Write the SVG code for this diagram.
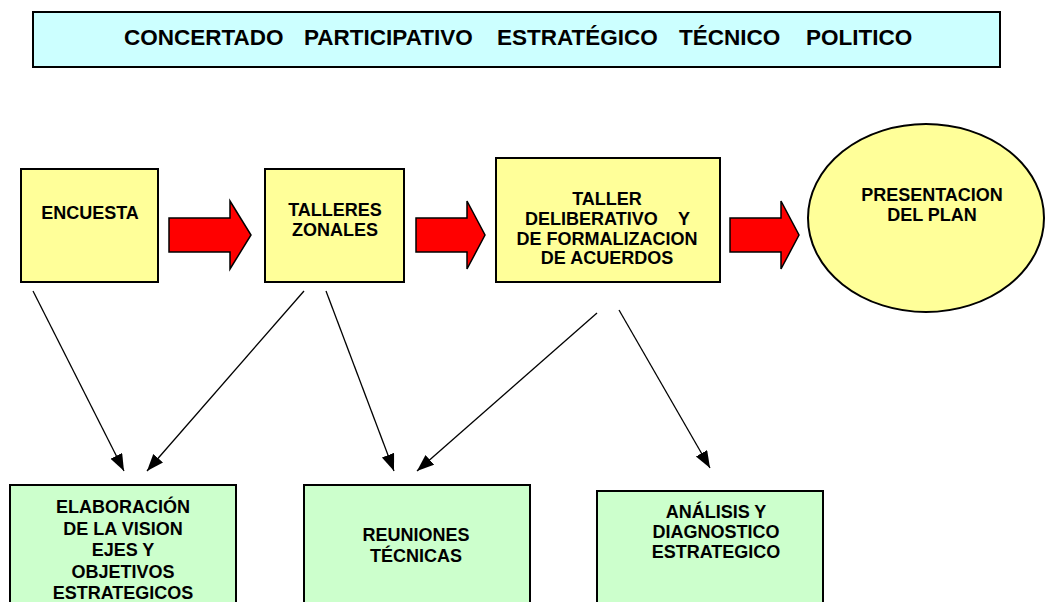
<svg xmlns="http://www.w3.org/2000/svg" width="1046" height="602" viewBox="0 0 1046 602">
<style>
.t{font-family:"Liberation Sans",Arial,sans-serif;font-weight:bold;font-size:18px;fill:#000;text-anchor:middle}
.tt{font-family:"Liberation Sans",Arial,sans-serif;font-weight:bold;font-size:22.5px;fill:#000}
.y{fill:#FFFF99;stroke:#000;stroke-width:2}
.g{fill:#CCFFCC;stroke:#000;stroke-width:2}
.ra{fill:#FF0000;stroke:#000;stroke-width:1.5}
.c{stroke:#000;stroke-width:1.3;fill:none;marker-end:url(#ah)}
</style>
<defs>
<marker id="ah" markerUnits="userSpaceOnUse" markerWidth="18" markerHeight="14" refX="17" refY="6.5" orient="auto">
<path d="M0,0 L17,6.5 L0,13 z" fill="#000"/>
</marker>
</defs>
<rect width="1046" height="602" fill="#fff"/>
<g id="title">
<rect x="33" y="12" width="967" height="55" fill="#CCFFFF" stroke="#000" stroke-width="2"/>
<text class="tt" y="45"><tspan x="124">CONCERTADO</tspan><tspan x="304">PARTICIPATIVO</tspan><tspan x="497">ESTRATÉGICO</tspan><tspan x="679">TÉCNICO</tspan><tspan x="806">POLITICO</tspan></text>
</g>
<g id="encuesta">
<rect class="y" x="21" y="169" width="137" height="113"/>
<text class="t" x="90" y="219">ENCUESTA</text>
</g>
<g id="talleres">
<rect class="y" x="265" y="169" width="139" height="113"/>
<text class="t" x="335" y="216">TALLERES</text>
<text class="t" x="335" y="236">ZONALES</text>
</g>
<g id="taller">
<rect class="y" x="496" y="158" width="224" height="124"/>
<text class="t" x="607" y="205">TALLER</text>
<text class="t" y="225" style="text-anchor:start"><tspan x="525">DELIBERATIVO</tspan><tspan x="678">Y</tspan></text>
<text class="t" x="607" y="245">DE FORMALIZACION</text>
<text class="t" x="607" y="264">DE ACUERDOS</text>
</g>
<g id="presentacion">
<ellipse cx="926" cy="218" rx="118" ry="94" fill="#FFFF99" stroke="#000" stroke-width="2"/>
<text class="t" x="932" y="201">PRESENTACION</text>
<text class="t" x="932" y="221">DEL PLAN</text>
</g>
<g id="elaboracion">
<rect class="g" x="10" y="485" width="226" height="140"/>
<text class="t" x="123" y="513">ELABORACIÓN</text>
<text class="t" x="123" y="535">DE LA VISION</text>
<text class="t" x="123" y="556">EJES Y</text>
<text class="t" x="123" y="578">OBJETIVOS</text>
<text class="t" x="123" y="599">ESTRATEGICOS</text>
</g>
<g id="reuniones">
<rect class="g" x="304" y="485" width="226" height="140"/>
<text class="t" x="416" y="541">REUNIONES</text>
<text class="t" x="416" y="562">TÉCNICAS</text>
</g>
<g id="analisis">
<rect class="g" x="597" y="491" width="226" height="140"/>
<text class="t" x="716" y="518">ANÁLISIS Y</text>
<text class="t" x="716" y="538">DIAGNOSTICO</text>
<text class="t" x="716" y="558">ESTRATEGICO</text>
</g>
<g id="connectors">
<polygon class="ra" points="169,218 230,218 230,201 251,235 230,269 230,252 169,252"/>
<polygon class="ra" points="416,218 467,218 467,201 485,235 467,269 467,252 416,252"/>
<polygon class="ra" points="730,218 781,218 781,201 799,235 781,269 781,252 730,252"/>
<line class="c" x1="33" y1="291" x2="124" y2="471"/>
<line class="c" x1="304" y1="291" x2="147" y2="471"/>
<line class="c" x1="326" y1="291" x2="394" y2="471"/>
<line class="c" x1="597" y1="313" x2="417" y2="471"/>
<line class="c" x1="619" y1="310" x2="710" y2="468"/>
</g>
</svg>
